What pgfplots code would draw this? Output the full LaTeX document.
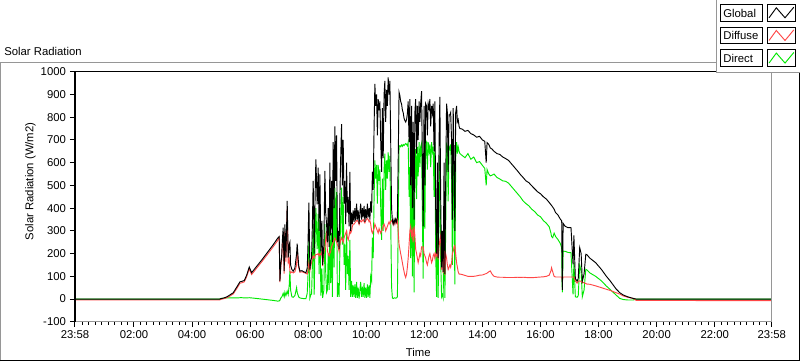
\documentclass[border=0pt]{standalone}
\usepackage{fontspec}
\setmainfont{Liberation Sans}
\usepackage{pgfplots}
\usepackage{pgfplotstable}
\pgfplotsset{compat=1.18}
\definecolor{dgreen}{RGB}{0,232,0}
\definecolor{dred}{RGB}{255,70,70}
\definecolor{frgray}{RGB}{150,150,150}
\pgfplotstableread{
h G D B
-0.0333 0 -4 0
4.95 0 -4 0
5.00 2 -1 3
5.10 5 2 4
5.20 10 6 5
5.30 18 13 5
5.42 28 23 5
5.55 55 48 5
5.65 76 70 6
5.72 78 72 6
5.80 82 76 5
5.88 105 98 5
5.97 141 133 6
6.05 116 108 5
6.20 140 132 3
6.40 172 164 0
6.60 206 197 -3
6.80 240 231 -6
6.95 268 258 -9
7.001 275 270 -8
7.025 79 75 -5
7.059 160 150 5
7.083 182 170 8
7.111 260 240 15
7.138 314 285 25
7.173 123 112 10
7.197 329 298 30
7.232 182 165 15
7.276 432 395 35
7.311 182 160 20
7.345 240 175 60
7.369 250 125 123
7.393 150 115 40
7.438 130 120 10
7.483 123 115 8
7.541 136 120 15
7.600 200 150 50
7.620 244 212 30
7.669 150 140 10
7.713 123 118 5
7.782 125 120 3
7.851 120 117 2
7.920 116 113 2
7.965 136 110 25
7.989 220 125 90
8.023 424 160 260
8.058 130 125 5
8.092 170 150 20
8.116 182 160 22
8.144 330 180 150
8.171 520 190 330
8.206 200 180 20
8.237 450 190 260
8.264 615 196 400
8.309 417 196 220
8.344 578 200 375
8.375 300 190 110
8.402 549 200 350
8.437 210 195 15
8.471 344 210 134
8.495 150 145 5
8.540 240 200 40
8.574 564 230 330
8.602 380 260 120
8.633 329 300 30
8.660 250 210 40
8.688 400 200 200
8.719 230 190 40
8.746 600 200 400
8.774 280 210 70
8.805 520 230 290
8.833 250 240 10
8.860 690 250 440
8.891 400 260 140
8.919 760 270 490
8.946 520 260 260
8.977 720 250 470
9.005 250 240 10
9.032 300 230 70
9.063 220 210 10
9.091 450 240 210
9.118 620 260 360
9.149 770 270 490
9.177 500 260 240
9.204 700 250 450
9.235 420 270 150
9.263 520 280 240
9.290 330 290 40
9.321 600 300 300
9.349 380 270 110
9.377 450 260 190
9.408 320 280 40
9.435 560 300 260
9.463 300 290 10
9.494 380 300 80
9.521 330 320 10
9.549 390 330 60
9.580 340 330 10
9.607 400 335 65
9.635 345 340 5
9.666 420 345 75
9.693 350 345 5
9.721 390 340 50
9.752 330 328 2
9.780 380 340 40
9.807 420 345 75
9.838 350 340 10
9.866 400 345 55
9.893 360 350 10
9.924 410 340 70
9.952 340 335 5
9.979 395 345 50
10.010 355 350 5
10.038 420 355 65
10.065 360 350 10
10.096 400 340 60
10.124 350 345 5
10.152 430 330 100
10.183 380 300 80
10.210 560 290 270
10.238 480 300 180
10.269 760 310 450
10.296 947 330 610
10.324 850 320 530
10.355 900 310 590
10.382 720 300 420
10.410 880 290 590
10.441 830 310 520
10.468 870 300 570
10.496 700 290 410
10.527 560 300 260
10.554 840 310 530
10.582 620 320 300
10.613 900 330 570
10.640 960 320 640
10.668 780 300 480
10.699 920 310 610
10.727 850 320 530
10.754 975 330 645
10.785 900 340 560
10.813 960 330 630
10.840 700 340 360
10.871 400 345 55
10.899 345 340 5
10.926 330 328 2
10.957 350 345 5
10.985 335 330 5
11.012 352 348 4
11.043 340 335 5
11.071 360 350 10
11.098 600 300 300
11.129 910 240 670
11.157 895 220 675
11.184 870 200 670
11.215 858 180 678
11.243 832 160 672
11.271 820 140 680
11.302 795 120 675
11.329 785 105 680
11.357 779 95 684
11.388 790 110 680
11.415 815 140 675
11.443 870 180 690
11.474 690 240 450
11.501 880 300 580
11.529 500 320 180
11.560 850 280 570
11.587 400 300 100
11.615 780 250 530
11.646 350 320 30
11.673 820 280 540
11.701 880 220 660
11.732 640 200 440
11.759 850 180 670
11.787 700 160 540
11.818 870 180 690
11.846 780 200 580
11.873 860 190 670
11.904 915 230 685
11.932 600 230 370
11.959 320 230 90
11.990 850 200 650
12.018 500 190 310
12.045 860 180 680
12.076 850 160 690
12.104 720 150 570
12.132 860 170 690
12.163 840 190 650
12.190 880 200 680
12.218 760 180 580
12.249 850 160 690
12.276 820 170 650
12.304 860 190 670
12.335 650 200 450
12.362 870 180 690
12.390 400 200 200
12.421 200 190 10
12.448 600 210 390
12.476 180 175 5
12.507 700 230 470
12.534 890 260 630
12.562 450 280 170
12.593 140 130 10
12.620 300 280 20
12.648 120 115 5
12.679 600 250 350
12.707 110 105 5
12.734 500 200 300
12.765 860 180 680
12.793 820 150 670
12.820 560 130 430
12.851 810 140 670
12.879 810 150 660
12.906 820 140 680
12.937 700 160 540
12.965 350 200 150
12.993 840 210 630
13.023 600 230 370
13.051 300 235 65
13.079 820 200 620
13.110 850 160 690
13.137 780 140 640
13.165 790 120 670
13.196 760 110 650
13.223 750 110 640
13.30 748 108 632
13.40 738 104 622
13.50 742 100 640
13.60 728 100 615
13.70 722 100 625
13.80 712 102 600
13.90 716 105 605
14.00 700 106 588
14.08 694 110 575
14.13 600 112 500
14.16 688 114 570
14.22 680 120 550
14.27 665 124 542
14.33 660 110 545
14.40 650 100 550
14.50 640 97 535
14.60 636 96 528
14.70 625 96 520
14.80 618 95 518
14.90 610 95 510
15.00 595 95 495
15.10 580 95 480
15.20 565 96 465
15.30 549 95 450
15.40 535 96 432
15.50 520 95 420
15.60 512 94 410
15.70 498 94 395
15.80 485 95 385
15.90 472 96 370
16.00 463 97 362
16.10 450 98 345
16.20 440 100 334
16.30 425 105 318
16.36 415 125 290
16.38 412 138 275
16.42 405 120 270
16.47 395 100 290
16.52 380 97 275
16.60 370 97 262
16.68 352 97 245
16.73 344 97 226
16.75 40 85 30
16.78 333 97 211
16.85 320 97 210
16.95 314 97 205
17.05 314 97 204
17.12 153 97 21
17.15 280 97 160
17.20 90 80 10
17.26 79 70 8
17.30 90 78 15
17.35 226 80 150
17.40 200 78 120
17.44 79 72 10
17.50 110 72 40
17.56 197 68 131
17.60 195 66 128
17.70 180 65 115
17.90 160 58 100
18.10 130 50 80
18.27 100 43 57
18.40 80 38 42
18.60 45 28 18
18.73 28 22 3
18.85 18 14 -2
19.00 10 8 -4
19.19 3 3 -4
19.30 0 -6 0
23.9667 0 -7 0
}\solardata
\begin{document}
\fontsize{8.5}{10}\selectfont
\begin{tikzpicture}
\begin{scope}[x=0.75pt,y=-0.75pt]
\path[use as bounding box] (0,0) rectangle (800,361);
\draw[frgray, line width=0.75pt] (0.4,361) -- (0.4,62) -- (717.3,62);
\draw[black, line width=0.75pt] (0,360.3) -- (799.6,360.3) -- (799.6,71.7);
\node[anchor=base west, inner sep=0pt] at (4,55) {Solar Radiation};
\end{scope}
\begin{axis}[
  at={(56.25pt,-241.125pt)}, anchor=south west,
  scale only axis, width=522.975pt, height=187.65pt,
  xmin=-0.03333, xmax=23.96667, ymin=-100, ymax=1000,
  xtick={-0.03333,2,4,6,8,10,12,14,16,18,20,22,23.96667},
  xticklabels={23:58,02:00,04:00,06:00,08:00,10:00,12:00,14:00,16:00,18:00,20:00,22:00,23:58},
  minor xtick={0.2222,0.4444,...,23.8},
  ytick={-100,0,...,1000},
  xtick pos=left, ytick pos=left,
  tick align=outside,
  major tick length=3.75pt,
  minor tick length=2.25pt,
  tick style={black, line width=0.75pt},
  minor tick style={black, line width=0.75pt},
  axis line style={draw=none},
  scaled ticks=false,
  /pgf/number format/1000 sep={},
  /pgf/number format/assume math mode=true,
  tick label style={font=\fontsize{8.5}{10}\selectfont},
  clip mode=individual,
]
\addplot[dgreen, line width=0.7pt] table[x=h,y=B] {\solardata};
\addplot[dred, line width=0.7pt] table[x=h,y=D] {\solardata};
\addplot[black, line width=0.7pt] table[x=h,y=G] {\solardata};
\draw[frgray, line width=0.9pt] (rel axis cs:1,1) -- (rel axis cs:1,0) -- (rel axis cs:0,0);
\draw[black, line width=1.1pt] (rel axis cs:0,0) -- (rel axis cs:0,1) -- (rel axis cs:1,1);
\end{axis}
\begin{scope}[x=0.75pt,y=-0.75pt]
\node[anchor=base, inner sep=0pt] at (418.5,356.7) {Time};
\node[anchor=base, rotate=90, inner sep=0pt] at (33.3,181) {Solar Radiation (W/m2)};
% legend
\fill[white] (717.3,0) rectangle (800,71.7);
\draw[frgray, line width=0.75pt] (717.3,0) -- (717.3,71.7) -- (800,71.7);
\foreach \t/\lab/\col in {4/Global/black, 26.7/Diffuse/dred, 49.3/Direct/dgreen}{
  \draw[black, line width=0.9pt] (720.7,\t) rectangle (763.3,\t+16.7);
  \node[anchor=west, inner sep=0pt] at (723.5,\t+8.6) {\lab};
  \draw[black, line width=0.9pt] (767.7,\t) rectangle (796,\t+16.7);
  \draw[\col, line width=0.7pt] (769.5,\t+13.3) -- (776.8,\t+3.3) -- (785.5,\t+13.3) -- (794.3,\t+2.7);
}
\end{scope}
\end{tikzpicture}
\end{document}
